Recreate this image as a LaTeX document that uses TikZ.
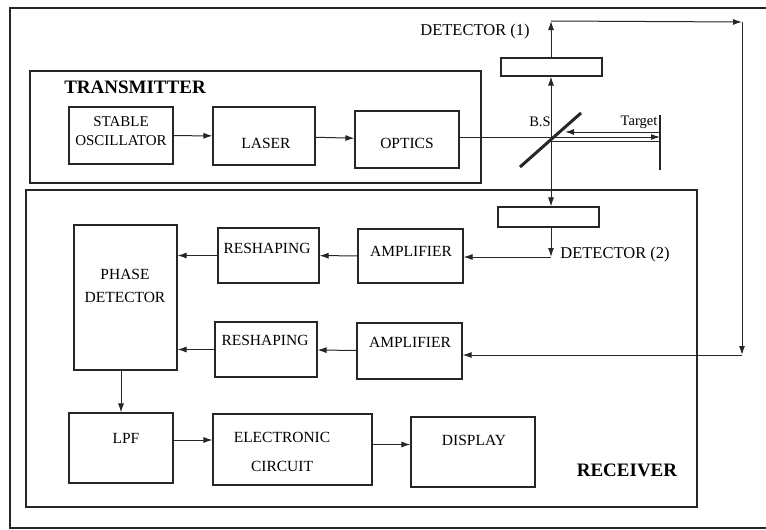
\documentclass[tikz,border=0pt]{standalone}
\usepackage{fontspec}
\setmainfont{Liberation Serif}
\usetikzlibrary{arrows.meta}
\begin{document}
\begin{tikzpicture}[x=1pt,y=-1pt,
  ln/.style={line width=1pt, draw=black!85},
  blk/.style={line width=1.1pt, draw=black!85, rectangle, inner sep=0pt},
  txt/.style={inner sep=0pt, font=\fontsize{15.5}{19}\selectfont, align=center},
  btxt/.style={inner sep=0pt, font=\fontsize{19}{22}\selectfont\bfseries},
  arr/.style={ln, -{Latex[length=9pt,width=6pt]}},
]
\useasboundingbox (0,0) rectangle (766,530);
% outer frame
\draw[line width=1.2pt, black!85] (766,8) -- (10,8) -- (10,528) -- (766,528);
% group boxes
\draw[line width=1.2pt, black!85] (30,71) rectangle (481,183);
\draw[line width=1.2pt, black!85] (26,190) rectangle (697,507);
\node[btxt] (ttx) at (135,87) {TRANSMITTER};
\node[btxt] (trx) at (627,470) {RECEIVER};
% blocks
\node[blk, minimum width=104pt, minimum height=57pt] (osc) at (121,135.5) {};
\node[blk, minimum width=102pt, minimum height=58pt] (laser) at (264,136) {};
\node[blk, minimum width=104pt, minimum height=57pt] (optics) at (407,139.5) {};
\node[blk, minimum width=101pt, minimum height=55pt] (resh1) at (268.5,255.5) {};
\node[blk, minimum width=105pt, minimum height=54pt] (amp1) at (410.5,256) {};
\node[blk, minimum width=103pt, minimum height=145pt] (phase) at (125.5,297.5) {};
\node[blk, minimum width=102pt, minimum height=55pt] (resh2) at (266,349.5) {};
\node[blk, minimum width=105pt, minimum height=56pt] (amp2) at (409.5,351) {};
\node[blk, minimum width=104pt, minimum height=70pt] (lpf) at (121,448) {};
\node[blk, minimum width=159pt, minimum height=71pt] (elec) at (292.5,449.5) {};
\node[blk, minimum width=124pt, minimum height=70pt] (disp) at (473,452) {};
\node[blk, minimum width=101pt, minimum height=18pt] (det1) at (551.5,67) {};
\node[blk, minimum width=101pt, minimum height=20pt] (det2) at (548.5,217) {};
% block texts
\node[txt, font=\fontsize{15}{19}\selectfont] (tosc) at (121,131) {STABLE\\OSCILLATOR};
\node[txt] (tlaser) at (266,143) {LASER};
\node[txt] (toptics) at (407,143) {OPTICS};
\node[txt] (tresh1) at (267,248) {RESHAPING};
\node[txt] (tamp1) at (411,251) {AMPLIFIER};
\node[txt, font=\fontsize{15.5}{23}\selectfont] (tphase) at (125,286) {PHASE\\DETECTOR};
\node[txt] (tresh2) at (265,340) {RESHAPING};
\node[txt] (tamp2) at (410,342) {AMPLIFIER};
\node[txt] (tlpf) at (126,438) {LPF};
\node[txt, font=\fontsize{15.5}{29}\selectfont] (telec) at (282,452) {ELECTRONIC\\CIRCUIT};
\node[txt] (tdisp) at (474,440) {DISPLAY};
\node[txt, font=\fontsize{16.5}{19}\selectfont] (tdet1) at (475,32) {DETECTOR (1)};
\node[txt, font=\fontsize{16.5}{19}\selectfont] (tdet2) at (615,255) {DETECTOR (2)};
\node[txt, font=\fontsize{14.5}{17}\selectfont] (tbs) at (540,122) {B.S};
\node[txt, font=\fontsize{14.5}{17}\selectfont] (ttarget) at (639,122) {Target};
% optical elements
\coordinate (bs) at (551,137);
\coordinate (bsa) at (520,167);
\coordinate (bsb) at (581,113);
\coordinate (tga) at (660,115);
\coordinate (tgb) at (660,170);
\draw[line width=3pt, black!85] (bsa) -- (bsb);
\draw[line width=2.4pt, black!85] (tga) -- (tgb);
\coordinate (c1) at (551,21);
\coordinate (c2) at (742,22);
\coordinate (c3) at (742,355);
\coordinate (c4) at (551,257);
% transmitter chain
\draw[arr] (osc) -- (laser);
\draw[arr] (laser) -- (optics);
\draw[ln] (optics.east |- bs) -- (bs);
\draw[arr] (bs) -- (tga |- bs);
\draw[ln] ([yshift=-4pt]bs) -- ([yshift=-4pt]tga |- bs);
\draw[arr] ([yshift=5pt]tga |- bs) -- ([yshift=5pt,xshift=14pt]bs);
% to detectors
\draw[arr] (bs) -- (bs |- det1.south);
\draw[arr] (bs |- det1.north) -- (c1);
\draw[arr] (c1) -- (c2);
\draw[arr] (c2) -- (c3);
\draw[arr] (c3) -- (amp2.east |- c3);
\draw[arr] (bs) -- (bs |- det2.north);
\draw[arr] (bs |- det2.south) -- (c4);
\draw[arr] (c4) -- (amp1.east |- c4);
% receiver chain
\draw[arr] (amp1) -- (resh1);
\draw[arr] (resh1.west) -- (resh1.west -| phase.east);
\draw[arr] (amp2) -- (resh2);
\draw[arr] (resh2.west) -- (resh2.west -| phase.east);
\draw[arr] (lpf.north |- phase.south) -- (lpf.north);
\draw[arr] ([yshift=8pt]lpf.east) -- ([yshift=8pt]lpf.east -| elec.west);
\draw[arr] ([yshift=5pt]elec.east) -- ([yshift=5pt]elec.east -| disp.west);
\end{tikzpicture}
\end{document}
